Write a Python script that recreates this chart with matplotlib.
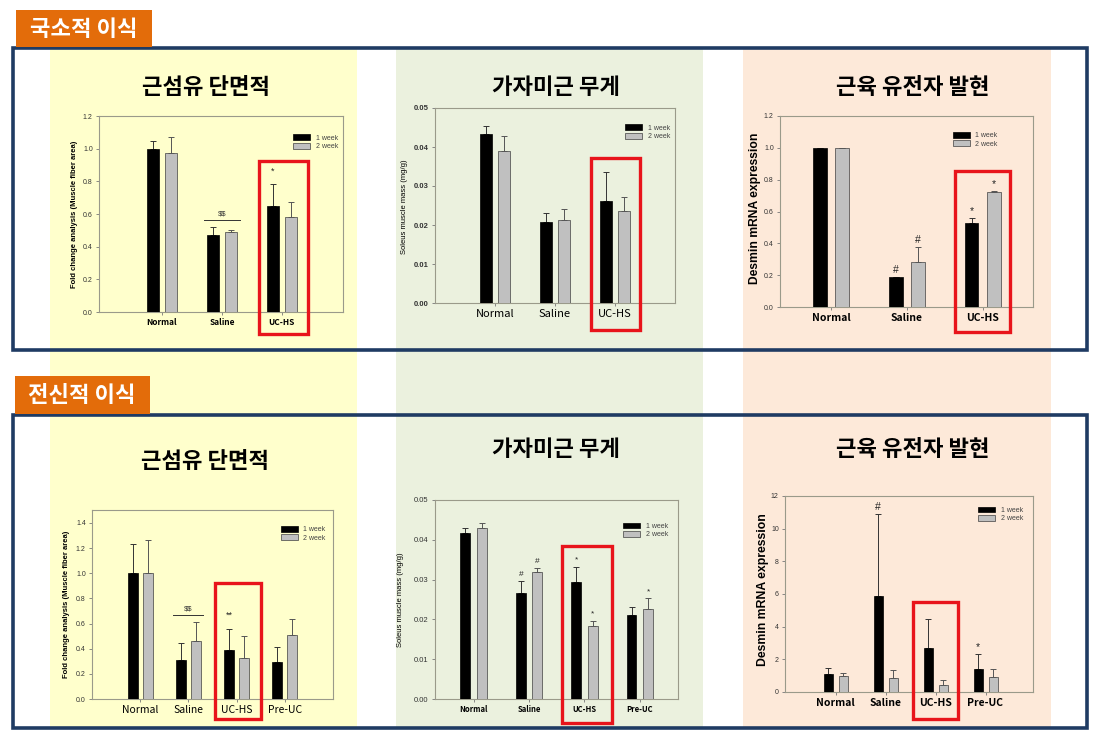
import matplotlib
matplotlib.use('Agg')
import matplotlib.pyplot as plt
from matplotlib.patches import Rectangle
import numpy as np

plt.rcParams['font.family'] = ['Noto Sans CJK KR', 'DejaVu Sans']

# ---------------- data ----------------
cats_top = ["Normal", "Saline", "UC-HS"]
cats_bot = ["Normal", "Saline", "UC-HS", "Pre-UC"]
series_names = ["1 week", "2 week"]

section_labels = ["국소적 이식", "전신적 이식"]
panel_titles = ["근섬유 단면적", "가자미근 무게", "근육 유전자 발현"]

# local transplant (top row)
fiber_local_w1 = [1.00, 0.47, 0.65]
fiber_local_w1_err = [0.05, 0.05, 0.135]
fiber_local_w2 = [0.975, 0.49, 0.58]
fiber_local_w2_err = [0.095, 0.01, 0.095]

mass_local_w1 = [0.0433, 0.0207, 0.0262]
mass_local_w1_err = [0.0021, 0.0025, 0.0075]
mass_local_w2 = [0.0390, 0.0212, 0.0235]
mass_local_w2_err = [0.0037, 0.0030, 0.0037]

desmin_local_w1 = [1.00, 0.19, 0.53]
desmin_local_w1_err = [0.0, 0.0, 0.03]
desmin_local_w2 = [1.00, 0.28, 0.72]
desmin_local_w2_err = [0.0, 0.10, 0.01]

# systemic transplant (bottom row)
fiber_sys_w1 = [1.00, 0.31, 0.39, 0.295]
fiber_sys_w1_err = [0.23, 0.135, 0.165, 0.115]
fiber_sys_w2 = [1.00, 0.46, 0.325, 0.505]
fiber_sys_w2_err = [0.265, 0.155, 0.175, 0.13]

mass_sys_w1 = [0.0418, 0.0266, 0.0295, 0.0210]
mass_sys_w1_err = [0.0012, 0.0030, 0.0037, 0.0020]
mass_sys_w2 = [0.0430, 0.0318, 0.0184, 0.0225]
mass_sys_w2_err = [0.0013, 0.0010, 0.0013, 0.0028]

desmin_sys_w1 = [1.1, 5.9, 2.7, 1.4]
desmin_sys_w1_err = [0.4, 5.0, 1.75, 0.9]
desmin_sys_w2 = [1.0, 0.85, 0.4, 0.9]
desmin_sys_w2_err = [0.15, 0.5, 0.35, 0.5]

# significance marks: (series, category, text)
marks_fiber_local = [(0, 2, "*")]
marks_desmin_local = [(0, 1, "#"), (1, 1, "#"), (0, 2, "*"), (1, 2, "*")]
marks_fiber_sys = [(0, 2, "**")]
marks_mass_sys = [(0, 1, "#"), (1, 1, "#"), (0, 2, "*"), (1, 2, "*"), (1, 3, "*")]
marks_desmin_sys = [(0, 1, "#"), (0, 3, "*")]
bracket_label = r"\$\$"

# ---------------- figure ----------------
W, H = 1094, 734
fig = plt.figure(figsize=(W / 100, H / 100), dpi=100)
fig.patch.set_facecolor('white')


def fx(x):
    return x / W


def fy(y):
    return 1 - y / H


def frect(x0, y0, x1, y1, **kw):
    r = Rectangle((fx(x0), fy(y1)), (x1 - x0) / W, (y1 - y0) / H,
                  transform=fig.transFigure, **kw)
    fig.add_artist(r)
    return r


# background columns
frect(50, 48, 357, 727, facecolor='#FFFFCC', edgecolor='none', zorder=-10)
frect(396, 48, 703, 727, facecolor='#EBF1DE', edgecolor='none', zorder=-10)
frect(743, 48, 1051, 727, facecolor='#FDE9D9', edgecolor='none', zorder=-10)

# section boxes
navy = '#1F3B63'
frect(13, 48, 1087, 350, facecolor='none', edgecolor=navy, lw=2.6, zorder=1)
frect(13, 415, 1087, 728, facecolor='none', edgecolor=navy, lw=2.6, zorder=1)

# orange labels
orange = '#E36C0A'
frect(16, 10, 152, 47, facecolor=orange, edgecolor='none', zorder=2)
frect(15, 376, 150, 414, facecolor=orange, edgecolor='none', zorder=2)
fig.text(fx(84), fy(30), section_labels[0], color='white', fontsize=16,
         fontweight='bold', ha='center', va='center', zorder=3)
fig.text(fx(82), fy(396), section_labels[1], color='white', fontsize=16,
         fontweight='bold', ha='center', va='center', zorder=3)

# titles
for (x, y), t in zip([(206, 87), (556, 87), (913, 87)], panel_titles):
    fig.text(fx(x), fy(y), t, fontsize=16, fontweight='bold', ha='center', va='center')
for (x, y), t in zip([(205, 462), (556, 450), (913, 450)], panel_titles):
    fig.text(fx(x), fy(y), t, fontsize=16, fontweight='bold', ha='center', va='center')


def panel(px, cats, w1, e1, w2, e2, ylim, yticks, fmt, xlim, width, offset,
          tick_fs=5.5, tick_bold=False, cat_fs=6.5, cat_bold=True,
          leg_fs=5, leg_loc=(0.98, 0.97), marks=(), mark_fs=7, mark_pad=0.0,
          bracket=None):
    x0, y0, x1, y1 = px
    ax = fig.add_axes([fx(x0), fy(y1), (x1 - x0) / W, (y1 - y0) / H])
    ax.set_facecolor('none')
    x = np.arange(len(cats))
    w1 = np.array(w1); w2 = np.array(w2)
    e1 = np.array(e1); e2 = np.array(e2)
    ax.bar(x - offset, w1, width, color='black', edgecolor='black', lw=0.5, label=series_names[0], zorder=3)
    ax.bar(x + offset, w2, width, color='#C0C0C0', edgecolor='#404040', lw=0.5, label=series_names[1], zorder=3)
    ax.errorbar(x - offset, w1, yerr=[np.zeros_like(e1), e1], fmt='none', ecolor='#333333',
                elinewidth=0.7, capsize=2, capthick=0.7, zorder=2)
    ax.errorbar(x + offset, w2, yerr=[np.zeros_like(e2), e2], fmt='none', ecolor='#555555',
                elinewidth=0.7, capsize=2, capthick=0.7, zorder=2)
    ax.set_xlim(*xlim)
    ax.set_ylim(*ylim)
    ax.set_yticks(yticks)
    ax.set_yticklabels([fmt.format(v) for v in yticks], fontsize=tick_fs,
                       fontweight='bold' if tick_bold else 'normal', color='#333333',
                       family=['Liberation Sans', 'DejaVu Sans'])
    ax.set_xticks(x)
    ax.set_xticklabels(cats, fontsize=cat_fs, fontweight='bold' if cat_bold else 'normal')
    ax.tick_params(axis='both', length=2.5, width=0.6, color='#777777', pad=2)
    for s in ax.spines.values():
        s.set_color('#9A9A8A')
        s.set_linewidth(0.8)
    leg = ax.legend(loc='upper right', bbox_to_anchor=leg_loc, frameon=False,
                    handlelength=2.4, handleheight=0.9, labelspacing=0.15, borderaxespad=0,
                    prop={'family': ['Liberation Sans', 'DejaVu Sans'], 'size': leg_fs})
    for t in leg.get_texts():
        t.set_color('#444444')
    span = ylim[1] - ylim[0]
    for s, c, t in marks:
        vals, errs, off = (w1, e1, -offset) if s == 0 else (w2, e2, offset)
        ax.text(c + off, vals[c] + errs[c] + span * (0.01 + mark_pad), t, ha='center',
                va='bottom', fontsize=mark_fs, color='#222222', family=['Liberation Sans', 'DejaVu Sans'])
    if bracket is not None:
        c, t = bracket
        top = max(w1[c] + e1[c], w2[c] + e2[c]) + span * 0.035
        ax.plot([c - offset - width / 2 - 0.05, c + offset + width / 2 + 0.05], [top, top],
                color='#333333', lw=0.7)
        ax.text(c, top + span * 0.015, t, ha='center', va='bottom', fontsize=mark_fs - 1,
                color='#333333', family=['Liberation Sans', 'DejaVu Sans'])
    return ax


# top-left: fiber area (local)
panel((99, 116, 343, 312), cats_top, fiber_local_w1, fiber_local_w1_err, fiber_local_w2,
      fiber_local_w2_err, (0, 1.2), np.arange(0, 1.21, 0.2), "{:.1f}", (-1.05, 3.02), 0.19, 0.15,
      tick_fs=5, cat_fs=6, cat_bold=True, leg_fs=5, leg_loc=(0.99, 0.92),
      marks=marks_fiber_local, mark_fs=6.5, mark_pad=0.03, bracket=(1, bracket_label))
fig.text(fx(75), fy(214), "Fold change analysis (Muscle fiber area)", rotation=90, fontsize=5.5,
         fontweight='bold', ha='center', va='center', family=['Liberation Sans', 'DejaVu Sans'])

# top-middle: soleus mass (local)
panel((435, 108, 675, 303), cats_top, mass_local_w1, mass_local_w1_err, mass_local_w2,
      mass_local_w2_err, (0, 0.05), np.arange(0, 0.0501, 0.01), "{:.2f}", (-1.0, 3.0), 0.19, 0.15,
      tick_fs=5.5, tick_bold=True, cat_fs=8, cat_bold=False, leg_fs=5, leg_loc=(0.99, 0.93))
fig.text(fx(404), fy(207), "Soleus muscle mass (mg/g)", rotation=90, fontsize=5.5,
         ha='center', va='center', family=['Liberation Sans', 'DejaVu Sans'])

# top-right: desmin (local)
panel((780, 116, 1033, 307), cats_top, desmin_local_w1, desmin_local_w1_err, desmin_local_w2,
      desmin_local_w2_err, (0, 1.2), np.arange(0, 1.21, 0.2), "{:.1f}", (-0.67, 2.66), 0.175, 0.145,
      tick_fs=5, cat_fs=7.5, cat_bold=True, leg_fs=5, leg_loc=(0.87, 0.93),
      marks=marks_desmin_local, mark_fs=7.5, mark_pad=0.0)
fig.text(fx(755), fy(208), "Desmin mRNA expression", rotation=90, fontsize=8.7,
         fontweight='bold', ha='center', va='center', family=['Liberation Sans', 'DejaVu Sans'])

# bottom-left: fiber area (systemic)
panel((92, 510, 333, 699), cats_bot, fiber_sys_w1, fiber_sys_w1_err, fiber_sys_w2,
      fiber_sys_w2_err, (0, 1.503), np.arange(0, 1.41, 0.2), "{:.1f}", (-1.0, 4.0), 0.21, 0.155,
      tick_fs=5, cat_fs=7.5, cat_bold=False, leg_fs=5, leg_loc=(0.98, 0.93),
      marks=marks_fiber_sys, mark_fs=6.5, mark_pad=0.04, bracket=(1, bracket_label))
fig.text(fx(67), fy(604), "Fold change analysis (Muscle fiber area)", rotation=90, fontsize=5.5,
         fontweight='bold', ha='center', va='center', family=['Liberation Sans', 'DejaVu Sans'])

# bottom-middle: soleus mass (systemic)
panel((435, 500, 678, 699), cats_bot, mass_sys_w1, mass_sys_w1_err, mass_sys_w2,
      mass_sys_w2_err, (0, 0.05), np.arange(0, 0.0501, 0.01), "{:.2f}", (-0.70, 3.69), 0.18, 0.15,
      tick_fs=5.5, tick_bold=False, cat_fs=5.5, cat_bold=True, leg_fs=5, leg_loc=(0.97, 0.9),
      marks=marks_mass_sys, mark_fs=6, mark_pad=0.005)
fig.text(fx(401), fy(600), "Soleus muscle mass (mg/g)", rotation=90, fontsize=5.5,
         ha='center', va='center', family=['Liberation Sans', 'DejaVu Sans'])

# bottom-right: desmin (systemic)
panel((785, 496, 1033, 692), cats_bot, desmin_sys_w1, desmin_sys_w1_err, desmin_sys_w2,
      desmin_sys_w2_err, (0, 12), np.arange(0, 12.1, 2), "{:.0f}", (-1.01, 3.95), 0.18, 0.15,
      tick_fs=5, cat_fs=7.5, cat_bold=True, leg_fs=5, leg_loc=(0.97, 0.96),
      marks=marks_desmin_sys, mark_fs=7.5, mark_pad=0.0)
fig.text(fx(763), fy(590), "Desmin mRNA expression", rotation=90, fontsize=8.8,
         fontweight='bold', ha='center', va='center', family=['Liberation Sans', 'DejaVu Sans'])

# red highlight boxes around UC-HS
red = '#E8141B'
for (a, b, c, d) in [(259, 161, 308, 334), (591, 158, 640, 330), (955, 171, 1010, 332),
                     (215, 583, 261, 719), (562, 546, 612, 723), (913, 602, 958, 719)]:
    frect(a, b, c, d, facecolor='none', edgecolor=red, lw=2.4, zorder=20)

fig.savefig('out.png', dpi=100)
